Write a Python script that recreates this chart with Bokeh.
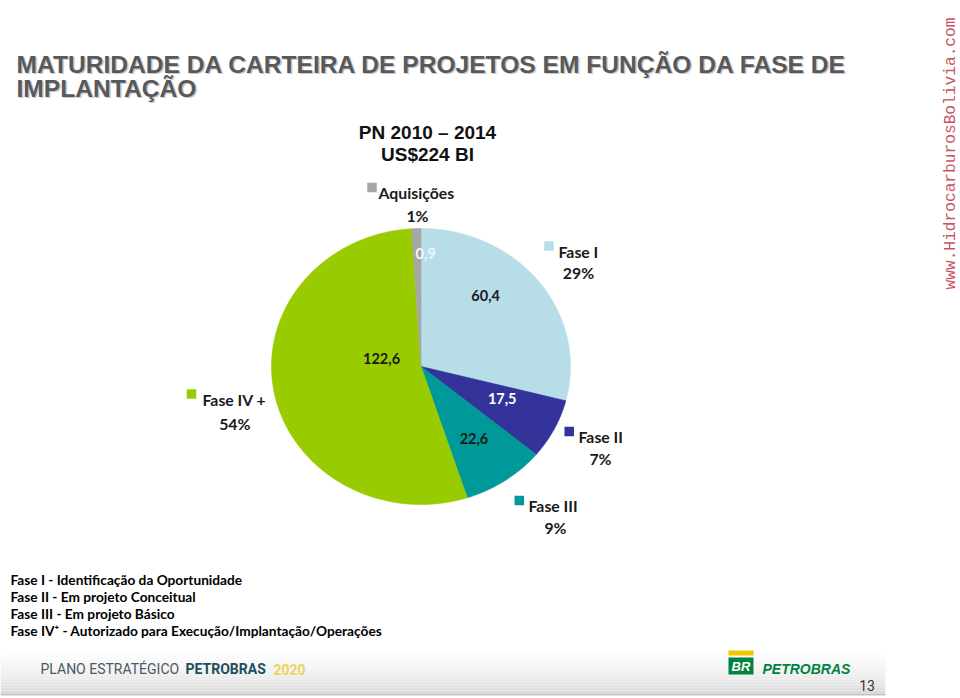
import math
from bokeh.plotting import figure
from bokeh.models import Range1d
from bokeh.core.properties import value
from bokeh.embed import file_html
from bokeh.resources import INLINE

# ---------------- data ----------------
categories = ["Fase I", "Fase II", "Fase III", "Fase IV +", "Aquisições"]
values_bi = [60.4, 17.5, 22.6, 122.6, 0.9]          # US$ bi (slice labels)
value_labels = ["60,4", "17,5", "22,6", "122,6", "0,9"]
shares = [29, 7, 9, 54, 1]                          # % shown in the chart
share_labels = ["29%", "7%", "9%", "54%", "1%"]
title_lines = ["MATURIDADE DA CARTEIRA DE PROJETOS EM FUNÇÃO DA FASE DE", "IMPLANTAÇÃO"]
subtitle_lines = ["PN 2010 – 2014", "US$224 BI"]
definitions = [
    "Fase I - Identificação da Oportunidade",
    "Fase II -  Em projeto Conceitual",
    "Fase III - Em projeto Básico",
    "Fase IV⁺ - Autorizado para Execução/Implantação/Operações",
]

# ---------------- styles / layout ----------------
colors = ["#b7dde8", "#333399", "#009999", "#99cc00", "#a6a6a6"]
label_colors = ["#1a1a1a", "#ffffff", "#1a1a1a", "#1a1a1a", "#eef7fa"]
CX, CY, RX, RY = 420.5, 366.0, 149.5, 138.0
label_dt = [-12, -4, 0, 23, 4]        # angular offset of value labels (deg)
label_f = [0.67, 0.59, 0.63, 0.27, 0.82]  # radial factor of value labels
# category label anchors: (square x, square y, name left x, name baseline, pct centre x, pct baseline)
cat_layout = [
    (548.5, 245.5, 558.0, 251, 578, 272),
    (568.7, 431.0, 578.0, 436, 600, 458),
    (518.8, 500.0, 528.0, 505, 555, 527),
    (191.0, 393.5, 202.0, 398.5, 234.3, 423),
    (371.5, 187.0, 378.0, 192, 417, 214.5),
]

W, H = 960, 698
p = figure(width=W, height=H, output_backend="svg", toolbar_location=None,
           x_range=Range1d(0, W), y_range=Range1d(H, 0),
           min_border=0, outline_line_color=None)
p.axis.visible = False
p.grid.visible = False
p.background_fill_color = "white"
p.border_fill_color = "white"


def txt(x, y, s, size, color, font="Lato", style="bold", align="left",
        baseline="alphabetic", angle=0.0, alpha=1.0):
    p.text(x=[x], y=[y], text=[s], text_font=value(font),
           text_font_size=f"{size}px", text_font_style=style,
           text_color=color, text_align=align, text_baseline=baseline,
           angle=angle, text_alpha=alpha)


# ---------------- footer band (gradient) ----------------
n = 32
top_y, bot_y = 644.0, 693.0
lefts, rights, tops, bottoms, fills = [], [], [], [], []
for i in range(n):
    f = i / (n - 1)
    g = int(round(255 - 36 * (f ** 1.6)))
    lefts.append(0)
    rights.append(885)
    tops.append(top_y + (bot_y - top_y) * i / n)
    bottoms.append(top_y + (bot_y - top_y) * (i + 1) / n)
    fills.append(f"#{g:02x}{g:02x}{g:02x}")
p.quad(left=lefts, right=rights, top=tops, bottom=bottoms,
       fill_color=fills, line_color=None)
p.quad(left=[0], right=[885], top=[693], bottom=[695], fill_color="#c4c4c4", line_color=None)

# footer texts
txt(40, 668.5, "PLANO ESTRATÉGICO", 14, "#4a5a62", font="Roboto", style="normal")
txt(185, 668.5, "PETROBRAS", 14, "#1d4e5e", font="Roboto", style="bold")
txt(273, 668.5, "2020", 14, "#efd35a", font="Roboto", style="bold")
# logo
p.quad(left=[728], right=[753], top=[650], bottom=[655], fill_color="#f2c500", line_color=None)
p.quad(left=[728], right=[753], top=[657], bottom=[674], fill_color="#00843d", line_color=None)
txt(740.5, 666, "BR", 13, "#ffffff", font="Liberation Sans", style="bold italic",
    align="center", baseline="middle")
txt(762, 668, "PETROBRAS", 14, "#00833e", font="Liberation Sans", style="bold italic")
txt(866.5, 685, "13", 14, "#333333", font="Roboto", style="normal",
    align="center", baseline="middle")

# ---------------- title ----------------
for i, line in enumerate(title_lines):
    yb = 63.5 + 24 * i
    txt(17.5, yb + 1.5, line, 24.6, "#c9c9c9", font="Liberation Sans", style="bold")
    txt(16, yb, line, 24.6, "#595959", font="Liberation Sans", style="bold")
for i, line in enumerate(subtitle_lines):
    txt(427, 132 + 21.5 * i, line, 19, "#111111", font="Liberation Sans",
        style="bold", align="center")

# ---------------- pie (elliptical, clockwise from 12 o'clock) ----------------
total = float(sum(shares))
xs, ys, mids = [], [], []
start = 0.0
for s in shares:
    end = start + 360.0 * s / total
    steps = max(4, int((end - start) / 1.0))
    px, py = [CX], [CY]
    for k in range(steps + 1):
        t = math.radians(start + (end - start) * k / steps)
        px.append(CX + RX * math.sin(t))
        py.append(CY - RY * math.cos(t))
    xs.append(px)
    ys.append(py)
    mids.append((start + end) / 2.0)
    start = end
p.patches(xs=xs, ys=ys, fill_color=colors, line_color=colors, line_width=0.6)

# value labels
for lab, m, dt, f, c in zip(value_labels, mids, label_dt, label_f, label_colors):
    t = math.radians(m + dt)
    txt(CX + f * RX * math.sin(t), CY - f * RY * math.cos(t), lab, 14.5, c,
        align="center", baseline="middle")

# category labels with colour squares
for cat, sh, col, lay in zip(categories, share_labels, colors, cat_layout):
    sx, sy, nx, nb, pcx, pcb = lay
    p.rect(x=[sx], y=[sy], width=9.5, height=9.5, fill_color=col, line_color=None)
    txt(nx, nb, cat, 15.8, "#1a1a1a")
    txt(pcx, pcb, sh, 15.8, "#1a1a1a", align="center")

# ---------------- definitions ----------------
for i, line in enumerate(definitions):
    txt(10, 578.5 + 17.3 * i, line, 13.7, "#000000")

# ---------------- watermark ----------------
txt(950, 289, "www.HidrocarburosBolivia.com", 16.2, "#c0303f",
    font="Liberation Mono", style="normal", baseline="middle",
    angle=math.pi / 2, alpha=0.85)

open("out.html", "w").write(file_html(p, INLINE))
